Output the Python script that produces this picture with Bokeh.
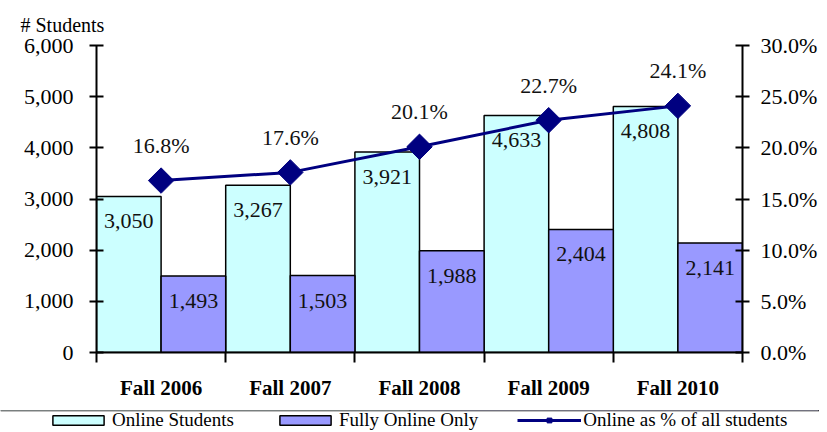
import numpy as np
from bokeh.plotting import figure
from bokeh.models import (Range1d, LinearAxis, FixedTicker, NumeralTickFormatter,
                          PrintfTickFormatter, ColumnDataSource, Legend, LegendItem, Title)
from bokeh.core.properties import value
from bokeh.embed import file_html
from bokeh.resources import INLINE

categories = ["Fall 2006", "Fall 2007", "Fall 2008", "Fall 2009", "Fall 2010"]
online_students = [3050, 3267, 3921, 4633, 4808]
fully_online = [1493, 1503, 1988, 2404, 2141]
online_pct = [16.8, 17.6, 20.1, 22.7, 24.1]
left_ticks = [0, 1000, 2000, 3000, 4000, 5000, 6000]
right_ticks = [0, 5, 10, 15, 20, 25, 30]
series_names = ["Online Students", "Fully Online Only", "Online as % of all students"]

FONT = "Liberation Serif"
ONLINE_C, FULLY_C, LINE_C = "#CCFFFF", "#9999FF", "#000080"
n = len(categories)
idx = np.arange(n)

p = figure(frame_width=646, frame_height=307, output_backend="svg", toolbar_location=None,
           x_range=Range1d(0, n), y_range=Range1d(0, 6000),
           min_border_left=96, min_border_right=77, min_border_top=45, min_border_bottom=58,
           y_axis_location=None, x_axis_location=None)
p.outline_line_color = None
p.xgrid.visible = False
p.ygrid.visible = False
p.extra_y_ranges = {"pct": Range1d(0, 30)}

src = ColumnDataSource(dict(
    xo=idx + 0.25, xf=idx + 0.75, xc=idx + 0.5,
    online=online_students, fully=fully_online, pct=online_pct,
    online_lbl=[f"{v:,}" for v in online_students],
    fully_lbl=[f"{v:,}" for v in fully_online],
    pct_lbl=[f"{v:.1f}%" for v in online_pct],
))

bar_kw = dict(width=0.5, line_color="black", line_width=1.5)
mark_kw = dict(marker="square", angle=np.pi / 4, fill_color=LINE_C, line_color=LINE_C)
p.vbar(x="xo", top="online", source=src, fill_color=ONLINE_C, **bar_kw)
p.vbar(x="xf", top="fully", source=src, fill_color=FULLY_C, **bar_kw)
p.line(x="xc", y="pct", source=src, y_range_name="pct", line_color=LINE_C, line_width=3)
p.scatter(x="xc", y="pct", source=src, y_range_name="pct", size=18, **mark_kw)

lbl_kw = dict(text_font=value(FONT), text_font_size="22px", text_color="#111111",
              text_align="center", text_baseline="middle")
p.text(x="xo", y="online", text="online_lbl", source=src, y_offset=25, **lbl_kw)
p.text(x="xf", y="fully", text="fully_lbl", source=src, y_offset=25, **lbl_kw)
p.text(x="xc", y="pct", text="pct_lbl", source=src, y_range_name="pct", y_offset=-35, **lbl_kw)

ax_l = LinearAxis(ticker=FixedTicker(ticks=left_ticks, minor_ticks=[]),
                  formatter=NumeralTickFormatter(format="0,0"))
ax_r = LinearAxis(y_range_name="pct", ticker=FixedTicker(ticks=right_ticks, minor_ticks=[]),
                  formatter=PrintfTickFormatter(format="%.1f%%"))
for ax, st in ((ax_l, 16), (ax_r, 11)):
    ax.axis_line_width = 2
    ax.major_tick_line_width = 2
    ax.major_tick_in = 7
    ax.major_tick_out = 7
    ax.minor_tick_line_color = None
    ax.major_label_text_font = FONT
    ax.major_label_text_font_size = "22px"
    ax.major_label_text_color = "black"
    ax.major_label_standoff = st
p.add_layout(ax_l, "left")
p.add_layout(ax_r, "right")

ax_b = LinearAxis(ticker=FixedTicker(ticks=list(idx + 0.5), minor_ticks=list(range(n + 1))))
ax_b.major_label_overrides = {float(i + 0.5): c for i, c in enumerate(categories)}
ax_b.axis_line_width = 2
ax_b.major_tick_in = 0
ax_b.major_tick_out = 0
ax_b.minor_tick_in = 0
ax_b.minor_tick_out = 10
ax_b.minor_tick_line_width = 2
ax_b.minor_tick_line_color = "black"
ax_b.major_label_text_font = FONT
ax_b.major_label_text_font_size = "21px"
ax_b.major_label_text_font_style = "bold"
ax_b.major_label_text_color = "black"
ax_b.major_label_standoff = 13
p.add_layout(ax_b, "below")

p.add_layout(Title(text="# Students", align="left", offset=-76, text_font=FONT,
                   text_font_size="20px", text_font_style="normal", text_color="black",
                   standoff=20), "above")

# Legend strip below the chart: its own small canvas, legend inside its frame.
# Its renderers share the chart data but lie outside this strip's ranges (not visible).
lg = figure(width=819, height=22, output_backend="svg", toolbar_location=None,
            x_range=Range1d(0, 1), y_range=Range1d(-2, -1),
            min_border_left=0, min_border_right=0, min_border_top=0, min_border_bottom=0,
            x_axis_location=None, y_axis_location=None)
lg.outline_line_color = None
lg.xgrid.visible = False
lg.ygrid.visible = False
g_on = lg.vbar(x="xo", top="online", source=src, fill_color=ONLINE_C, **bar_kw)
g_fu = lg.vbar(x="xf", top="fully", source=src, fill_color=FULLY_C, **bar_kw)
g_ln = lg.line(x="xc", y="pct", source=src, line_color=LINE_C, line_width=3)
g_mk = lg.scatter(x="xc", y="pct", source=src, size=10, **mark_kw)

legend = Legend(items=[LegendItem(label=series_names[0], renderers=[g_on]),
                       LegendItem(label=series_names[1], renderers=[g_fu]),
                       LegendItem(label=series_names[2], renderers=[g_ln, g_mk])],
                orientation="horizontal", location=(46, 1), nrows=1, padding=0, margin=0,
                spacing=39, label_standoff=2, glyph_width=64, glyph_height=12,
                label_height=19, label_text_font=FONT, label_text_font_size="19px",
                label_text_color="black",
                border_line_color=None, background_fill_alpha=0)
lg.add_layout(legend, "center")

open("out.html", "w").write(file_html([p, lg], INLINE))
